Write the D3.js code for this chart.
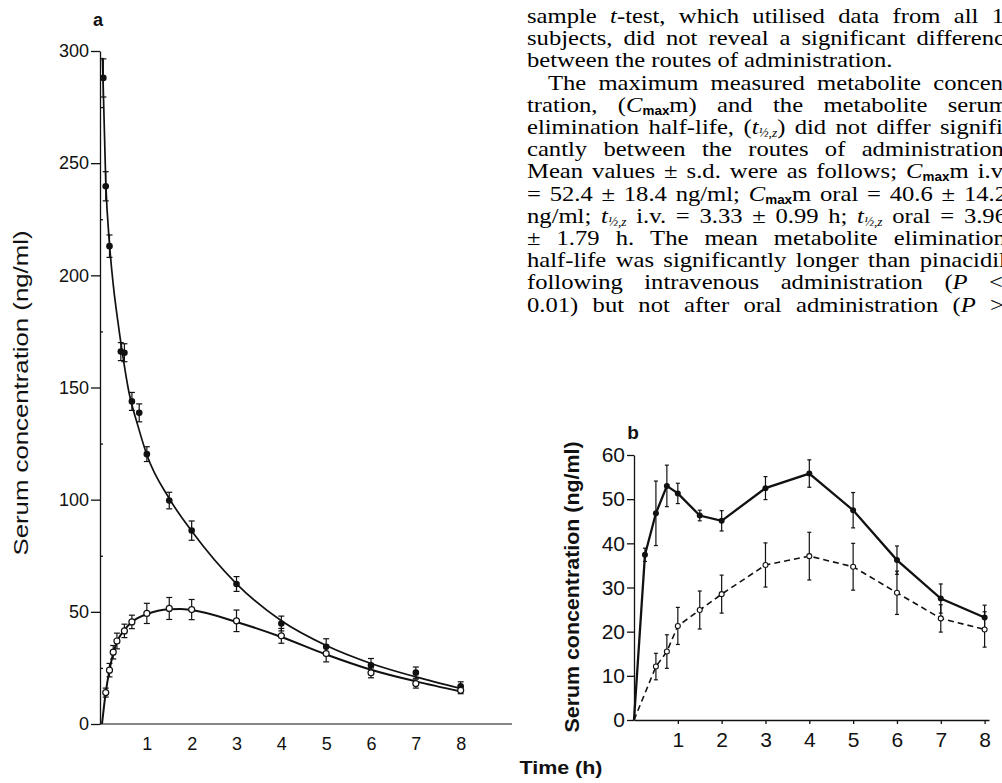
<!DOCTYPE html>
<html lang="en">

<head>
    <meta charset="UTF-8">
    <title>Pinacidil and metabolite serum concentrations</title>
    <script src="https://d3js.org/d3.v7.min.js"></script>
    <style>
        body { margin: 0; background: #fff; }
        svg { display: block; }
    </style>
</head>

<body>
    <script>
        // ---- data ----

        // panel a: i.v. pinacidil (filled circles), mean and s.e.
        var timeIvA = [0.03, 0.083, 0.167, 0.42, 0.5, 0.667, 0.83, 1, 1.5, 2, 3, 4, 5, 6, 7, 8];
        var pinacidilA = [288, 239.7, 213, 166, 165.5, 143.8, 138.7, 120.3, 99.6, 86.2, 62.4, 44.8, 34.4, 26.2, 22.9, 16.8];
        var pinacidilErrA = [8.5, 6.5, 5, 4, 4, 4, 4, 3.3, 3.7, 4.3, 3.3, 3.3, 3.6, 3, 2.5, 2];

        // panel a: metabolite after i.v. (open circles)
        var timeMetA = [0.083, 0.167, 0.25, 0.333, 0.5, 0.667, 1, 1.5, 2, 3, 4, 5, 6, 7, 8];
        var metaboliteA = [14, 24, 32, 37, 41.5, 45.5, 49.3, 51.5, 51, 46, 39.3, 31.4, 22.8, 18, 15];
        var metaboliteErrA = [2, 3, 3, 3.5, 3, 3, 4.5, 4.9, 4.5, 4.8, 3.3, 3.7, 2.2, 2, 1.5];

        // panel a: fitted curves
        var fitTimeIvA = [0.01, 0.083, 0.167, 0.25, 0.35, 0.45, 0.6, 0.8, 1, 1.5, 2, 3, 4, 5, 6, 7, 8];
        var fitIvA = [297, 242, 214, 196, 180, 166, 148, 133, 120, 100.5, 86, 62.5, 46, 35, 27, 21, 15.8];
        var fitTimeMetA = [0, 0.083, 0.167, 0.25, 0.333, 0.5, 0.667, 1, 1.5, 1.75, 2, 3, 4, 5, 6, 7, 8];
        var fitMetA = [0, 14, 24, 31.5, 36.5, 42, 45.5, 49, 51.2, 51.3, 50.8, 45.5, 38.8, 31, 24.2, 19, 14.5];

        // panel b: oral pinacidil (solid) and metabolite (dashed)
        var timeB = [0, 0.25, 0.5, 0.75, 1, 1.5, 2, 3, 4, 5, 6, 7, 8];
        var pinacidilB = [0, 37.4, 46.8, 53, 51.3, 46.3, 45.1, 52.5, 55.8, 47.5, 36.2, 27.5, 23.2];
        var pinacidilErrB = [0, 1.5, 7.3, 4.7, 2.3, 1.2, 2.3, 2.6, 3.1, 4, 3.2, 3.3, 2.8];
        var timeMetB = [0, 0.5, 0.75, 1, 1.5, 2, 3, 4, 5, 6, 7, 8];
        var metaboliteB = [0, 12.1, 15.5, 21.3, 24.9, 28.5, 35.1, 37.1, 34.7, 28.8, 23, 20.5];
        var metaboliteErrB = [0, 3, 3.8, 4.2, 4.3, 4.3, 5, 5.4, 5.3, 4.9, 3.1, 4];

        // ticks
        var yTicksA = [0, 50, 100, 150, 200, 250, 300];
        var yMinorA = [25, 75, 125, 175, 225, 275];
        var xTicks = [1, 2, 3, 4, 5, 6, 7, 8];
        var yTicksB = [0, 10, 20, 30, 40, 50, 60];

        // body text next to the figure (*italic*, _{subscript})
        var textLines = [
            "sample *t*-test, which utilised data from all 1",
            "subjects, did not reveal a significant differenc",
            "between the routes of administration.",
            "The maximum measured metabolite concen",
            "tration, (*C*_{max}m) and the metabolite serum",
            "elimination half-life, (*t*_{½,z}) did not differ signifi",
            "cantly between the routes of administration",
            "Mean values ± s.d. were as follows; *C*_{max}m i.v",
            "= 52.4 ± 18.4 ng/ml; *C*_{max}m oral = 40.6 ± 14.2",
            "ng/ml; *t*_{½,z} i.v. = 3.33 ± 0.99 h; *t*_{½,z} oral = 3.96",
            "± 1.79 h. The mean metabolite elimination",
            "half-life was significantly longer than pinacidil",
            "following intravenous administration (*P* <",
            "0.01) but not after oral administration (*P* >"
        ];
        var lineStart = [527, 527, 527, 548, 527, 527, 527, 527, 527, 527, 527, 527, 527, 527];
        var lineEnd = [1004, 1005, null, 1003, 1008, 1003, 1004, 1003, 1007, 1007, 1006, 1006, 1003, 1004];

        // ---- drawing ----
        var width = 1002, height = 783;
        var ink = "#111";
        var sans = "'Liberation Sans', Arial, Helvetica, sans-serif";
        var serif = "'Liberation Serif', 'Times New Roman', serif";

        var svg = d3.select("body").append("svg")
            .attr("width", width)
            .attr("height", height);

        function styleAxis(g, size) {
            g.selectAll("path, line").attr("stroke", ink).attr("stroke-width", 1.3);
            g.selectAll("text").attr("fill", ink).style("font-family", sans).style("font-size", size + "px");
        }

        function errorBars(g, xs, ys, es, x, y, cap, cls) {
            var sel = g.selectAll("g." + cls)
                .data(d3.range(xs.length).filter(function (i) { return xs[i] > 0; }))
                .enter().append("g").attr("class", cls);
            sel.append("line")
                .attr("x1", function (i) { return x(xs[i]); })
                .attr("x2", function (i) { return x(xs[i]); })
                .attr("y1", function (i) { return y(ys[i] - es[i]); })
                .attr("y2", function (i) { return y(ys[i] + es[i]); });
            [1, -1].forEach(function (s) {
                sel.append("line")
                    .attr("x1", function (i) { return x(xs[i]) - cap; })
                    .attr("x2", function (i) { return x(xs[i]) + cap; })
                    .attr("y1", function (i) { return y(ys[i] + s * es[i]); })
                    .attr("y2", function (i) { return y(ys[i] + s * es[i]); });
            });
            sel.selectAll("line").attr("stroke", ink).attr("stroke-width", 1.2);
        }

        // ===== panel a =====
        var xA = d3.scaleLinear().domain([0, 9.1]).range([102, 510]);
        var yA = d3.scaleLinear().domain([0, 300]).range([724, 51]);
        var gA = svg.append("g");

        gA.append("g")
            .attr("transform", "translate(100,0)")
            .call(d3.axisLeft(yA).tickValues(yTicksA).tickSize(9).tickPadding(2).tickSizeOuter(0))
            .call(styleAxis, 18);
        gA.append("g")
            .attr("transform", "translate(100,0)")
            .call(d3.axisRight(yA).tickValues(yMinorA).tickSize(3).tickFormat("").tickSizeOuter(0))
            .call(function (g) { g.select(".domain").remove(); })
            .call(styleAxis, 18);

        var axA = gA.append("g")
            .attr("transform", "translate(0,724)")
            .call(d3.axisBottom(xA).tickValues(xTicks).tickSize(0).tickPadding(13))
            .call(styleAxis, 18);
        axA.select(".domain").remove();
        gA.append("line")
            .attr("x1", 100).attr("x2", 512)
            .attr("y1", 724).attr("y2", 724)
            .attr("stroke", ink).attr("stroke-width", 1.1);

        var fitLine = d3.line().curve(d3.curveMonotoneX);
        gA.append("path")
            .attr("d", fitLine(fitTimeIvA.map(function (t, i) { return [xA(t), yA(fitIvA[i])]; })))
            .attr("fill", "none").attr("stroke", ink).attr("stroke-width", 1.7);
        gA.append("path")
            .attr("d", fitLine(fitTimeMetA.map(function (t, i) { return [xA(t), yA(fitMetA[i])]; })))
            .attr("fill", "none").attr("stroke", ink).attr("stroke-width", 2);

        errorBars(gA, timeIvA, pinacidilA, pinacidilErrA, xA, yA, 3, "ebIvA");
        errorBars(gA, timeMetA, metaboliteA, metaboliteErrA, xA, yA, 3, "ebMetA");

        gA.selectAll("circle.iv")
            .data(timeIvA)
            .enter().append("circle")
            .attr("class", "iv")
            .attr("cx", function (d) { return xA(d); })
            .attr("cy", function (d, i) { return yA(pinacidilA[i]); })
            .attr("r", 3.3)
            .attr("fill", ink);
        gA.selectAll("circle.met")
            .data(timeMetA)
            .enter().append("circle")
            .attr("class", "met")
            .attr("cx", function (d) { return xA(d); })
            .attr("cy", function (d, i) { return yA(metaboliteA[i]); })
            .attr("r", 3)
            .attr("fill", "#fff")
            .attr("stroke", ink).attr("stroke-width", 1.2);

        gA.append("text")
            .attr("x", 98).attr("y", 26)
            .attr("text-anchor", "middle")
            .style("font-family", sans).style("font-size", "18px").style("font-weight", "bold")
            .attr("fill", ink)
            .text("a");

        gA.append("text")
            .attr("transform", "translate(28,393) rotate(-90)")
            .attr("text-anchor", "middle")
            .attr("textLength", 325).attr("lengthAdjust", "spacingAndGlyphs")
            .style("font-family", sans).style("font-size", "20px")
            .attr("fill", ink)
            .text("Serum concentration (ng/ml)");

        // ===== panel b =====
        var xB = d3.scaleLinear().domain([0, 8.1]).range([634, 989]);
        var yB = d3.scaleLinear().domain([0, 60]).range([720, 455]);
        var gB = svg.append("g");

        gB.append("g")
            .attr("transform", "translate(634,0)")
            .call(d3.axisLeft(yB).tickValues(yTicksB).tickSize(7).tickPadding(2).tickSizeOuter(0))
            .call(styleAxis, 21);
        gB.append("g")
            .attr("transform", "translate(0,720)")
            .call(d3.axisBottom(xB).tickValues(xTicks).tickSize(4).tickPadding(8).tickSizeOuter(0))
            .call(styleAxis, 21);

        var straight = d3.line()
            .x(function (d) { return xB(d[0]); })
            .y(function (d) { return yB(d[1]); });
        gB.append("path")
            .attr("d", straight(timeMetB.map(function (t, i) { return [t, metaboliteB[i]]; })))
            .attr("fill", "none").attr("stroke", ink).attr("stroke-width", 1.6)
            .attr("stroke-dasharray", "6,4");
        gB.append("path")
            .attr("d", straight(timeB.map(function (t, i) { return [t, pinacidilB[i]]; })))
            .attr("fill", "none").attr("stroke", ink).attr("stroke-width", 2.3);

        errorBars(gB, timeB, pinacidilB, pinacidilErrB, xB, yB, 2, "ebOralB");
        errorBars(gB, timeMetB, metaboliteB, metaboliteErrB, xB, yB, 2, "ebMetB");

        gB.selectAll("circle.oral")
            .data(timeB.filter(function (t) { return t > 0; }))
            .enter().append("circle")
            .attr("class", "oral")
            .attr("cx", function (d) { return xB(d); })
            .attr("cy", function (d) { return yB(pinacidilB[timeB.indexOf(d)]); })
            .attr("r", 3)
            .attr("fill", ink);
        gB.selectAll("circle.metb")
            .data(timeMetB.filter(function (t) { return t > 0; }))
            .enter().append("circle")
            .attr("class", "metb")
            .attr("cx", function (d) { return xB(d); })
            .attr("cy", function (d) { return yB(metaboliteB[timeMetB.indexOf(d)]); })
            .attr("r", 2.5)
            .attr("fill", "#fff")
            .attr("stroke", ink).attr("stroke-width", 1.1);

        gB.append("text")
            .attr("x", 633).attr("y", 439)
            .attr("text-anchor", "middle")
            .style("font-family", sans).style("font-size", "19px").style("font-weight", "bold")
            .attr("fill", ink)
            .text("b");

        gB.append("text")
            .attr("transform", "translate(579,587) rotate(-90)")
            .attr("text-anchor", "middle")
            .attr("textLength", 291).attr("lengthAdjust", "spacingAndGlyphs")
            .style("font-family", sans).style("font-size", "21px").style("font-weight", "bold")
            .attr("fill", ink)
            .text("Serum concentration (ng/ml)");

        svg.append("text")
            .attr("x", 561).attr("y", 774)
            .attr("text-anchor", "middle")
            .attr("textLength", 83).attr("lengthAdjust", "spacingAndGlyphs")
            .style("font-family", sans).style("font-size", "19px").style("font-weight", "bold")
            .attr("fill", ink)
            .text("Time (h)");

        // ===== body text, justified word by word =====
        // the scanned type is a little wider than it is tall, so each word is stretched sideways
        var textSize = 22, stretch = 1.12;
        var gT = svg.append("g")
            .style("font-family", serif).style("font-size", textSize + "px")
            .attr("fill", "#000");

        function parseWord(w) {
            return w.split(/(\*[^*]+\*|_\{[^}]+\})/).filter(function (s) { return s.length; })
                .map(function (p) {
                    if (p[0] === "*") return { t: p.slice(1, -1), s: "i" };
                    if (p[0] === "_" && p[1] === "{") return { t: p.slice(2, -1), s: "sub" };
                    return { t: p, s: "" };
                });
        }

        textLines.forEach(function (line, li) {
            var baseY = 23 + 22.2 * li;
            var words = line.split(" ").map(function (w) {
                var t = gT.append("text");
                var shifted = false;
                parseWord(w).forEach(function (seg) {
                    var ts = t.append("tspan").text(seg.t);
                    if (seg.s === "i") ts.style("font-style", "italic");
                    if (seg.s === "sub") {
                        ts.attr("dy", 3).style("font-size", "12px").style("font-family", sans).style("font-weight", "bold");
                        if (seg.t.indexOf("½") >= 0) ts.style("font-family", serif).style("font-weight", "normal").style("font-style", "italic");
                        shifted = true;
                    } else if (shifted) {
                        ts.attr("dy", -3);
                        shifted = false;
                    }
                });
                return { el: t, w: t.node().getComputedTextLength() * stretch };
            });
            var total = d3.sum(words, function (d) { return d.w; });
            var gap = 6;
            if (lineEnd[li] !== null && words.length > 1) {
                gap = Math.max(5, (lineEnd[li] - lineStart[li] - total) / (words.length - 1));
            }
            var x = lineStart[li];
            words.forEach(function (d) {
                d.el.attr("transform", "translate(" + x + "," + baseY + ") scale(" + stretch + ",1)");
                x += d.w + gap;
            });
        });
    </script>
</body>

</html>
